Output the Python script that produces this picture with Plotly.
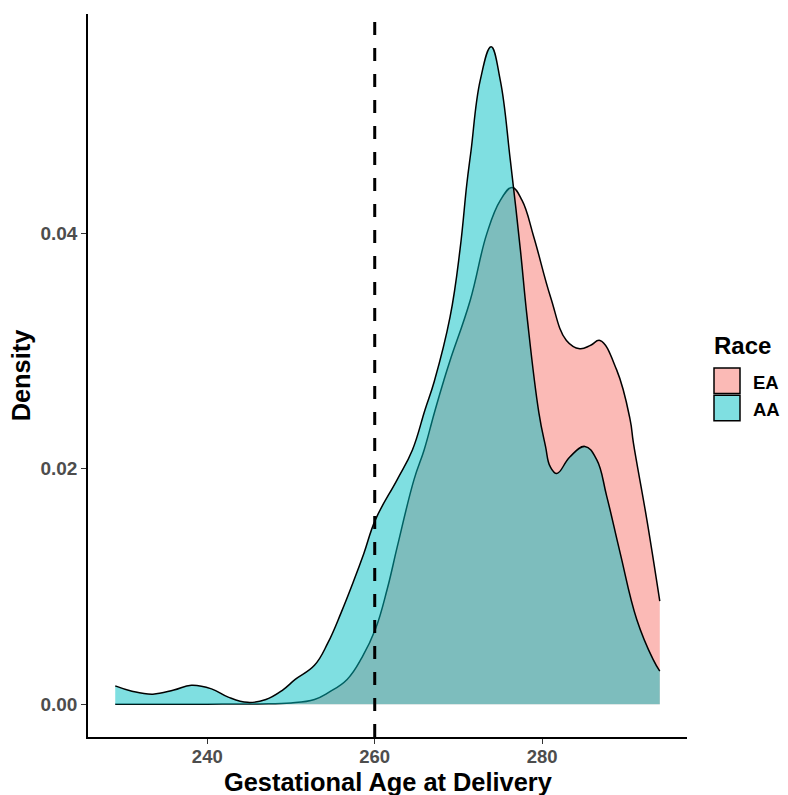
import plotly.graph_objects as go

# Gestational age grid and density values
ea_x = [229, 235, 240, 246, 250, 252.8, 254.5, 256.7, 258.5, 260.1, 261.5, 262.7,
        264.7, 265.9, 267.1, 268.25, 269.0, 271.4, 273.4, 275.0, 276.4, 277.6,
        279.0, 281.0, 282.9, 284.5, 285.8, 286.9, 288.9, 290.5, 290.9, 292.5, 294.05]
ea_y = [0.0, 0.0, 0.0, 0.00002, 0.0001, 0.0004, 0.001, 0.0021, 0.0040, 0.0064, 0.0098,
        0.0134, 0.0191, 0.0216, 0.0247, 0.0275, 0.0292, 0.0343, 0.0400, 0.0428, 0.0439,
        0.0428, 0.0397, 0.0346, 0.0309, 0.0302, 0.0305, 0.0309, 0.0284, 0.0242, 0.0222,
        0.0157, 0.00876]

aa_x = [229, 231, 233.5, 236, 238.1, 240.5, 242.5, 244.8, 247, 249, 250.5, 252.8,
        254.4, 256, 257.5, 258.7, 260.1, 262.7, 264.5, 266, 267.1, 269.0, 270.2,
        271.0, 271.5, 272.6, 273.9, 275.0, 276.2, 277.4, 278.2, 279.6, 280.4, 280.95,
        281.75, 283.3, 285.1, 286.5, 287.7, 289.3, 291.3, 293.25, 294.05]
aa_y = [0.00155, 0.0011, 0.00085, 0.0012, 0.0016, 0.0013, 0.0006, 0.00015, 0.0004,
        0.0012, 0.0021, 0.0033, 0.0052, 0.0078, 0.0105, 0.0128, 0.0157, 0.0191, 0.0216,
        0.025, 0.0274, 0.0329, 0.0387, 0.0442, 0.047, 0.053, 0.05585, 0.053, 0.0462,
        0.0386, 0.0329, 0.0248, 0.0219, 0.0202, 0.0196, 0.0210, 0.0219, 0.0208, 0.0177,
        0.0129, 0.0072, 0.0038, 0.0028]

cutoff = 260
groups = ["EA", "AA"]
fills = ["rgba(248,118,109,0.5)", "rgba(0,191,196,0.5)"]
x_ticks = [240, 260, 280]
y_ticks = [0.0, 0.02, 0.04]
y_tick_text = ["0.00", "0.02", "0.04"]

FONT = "Liberation Sans, Arial, sans-serif"

fig = go.Figure()
for name, xs, ys, fc in zip(groups, [ea_x, aa_x], [ea_y, aa_y], fills):
    fig.add_trace(go.Scatter(
        x=xs, y=ys, name=name, mode="lines", fill="tozeroy", fillcolor=fc,
        line=dict(color="black", width=1.5, shape="spline", smoothing=1.2),
        showlegend=False, hoverinfo="x+y+name"))

xmin, xmax = min(ea_x + aa_x), max(ea_x + aa_x)
ymax = max(ea_y + aa_y)
xr = [xmin - 0.05 * (xmax - xmin), xmax + 0.05 * (xmax - xmin)]
yr = [-0.05 * ymax, ymax * 1.05]

fig.add_shape(type="line", x0=cutoff, x1=cutoff, xref="x", y0=0, y1=1, yref="paper",
              line=dict(color="black", width=3, dash="13px,13px"), layer="above")

L, R, T, B = 88, 101, 14, 58
W, H = 788, 795
pw, ph = W - L - R, H - T - B

def px(xp):
    return (xp - L) / pw

def py(yp):
    return (H - B - yp) / ph

# x axis title placed as annotation to match ggplot spacing
fig.add_annotation(x=0.5, y=py(782), xref="paper", yref="paper",
                   text="<b>Gestational Age at Delivery</b>", showarrow=False,
                   xanchor="center", yanchor="middle",
                   font=dict(family=FONT, size=25.4, color="black"))

# manual legend (ggplot style)
fig.add_annotation(x=px(712), y=py(345), xref="paper", yref="paper", text="<b>Race</b>",
                   showarrow=False, xanchor="left", yanchor="middle",
                   font=dict(family=FONT, size=24, color="black"))
for i, (name, fc) in enumerate(zip(groups, fills)):
    top = 368 + i * 27.3
    fig.add_shape(type="rect", xref="paper", yref="paper",
                  x0=px(714), x1=px(740), y0=py(top), y1=py(top + 25.5),
                  fillcolor=fc, line=dict(color="black", width=1.5))
    fig.add_annotation(x=px(751), y=py(top + 14), xref="paper", yref="paper",
                       text="<b>%s</b>" % name, showarrow=False, xanchor="left",
                       yanchor="middle", font=dict(family=FONT, size=18.5, color="black"))

fig.update_layout(
    width=W, height=H, margin=dict(l=L, r=R, t=T, b=B, autoexpand=False),
    plot_bgcolor="white", paper_bgcolor="white", showlegend=False,
    font=dict(family=FONT),
)
fig.update_xaxes(range=xr, tickvals=x_ticks, ticks="outside", ticklen=5, tickwidth=1.2,
                 tickcolor="#333333", showline=True, linecolor="black", linewidth=1.5,
                 showgrid=False, zeroline=False, automargin=False,
                 ticklabelstandoff=-3,
                 tickfont=dict(family=FONT, size=18.5, color="#4D4D4D", weight="bold"))
fig.update_yaxes(range=yr, tickvals=y_ticks, ticktext=y_tick_text, ticks="outside",
                 ticklen=5, tickwidth=1.2, tickcolor="#333333", showline=True,
                 linecolor="black", linewidth=1.5, showgrid=False, zeroline=False,
                 automargin=False,
                 tickfont=dict(family=FONT, size=19, color="#4D4D4D", weight="bold"),
                 title=dict(text="<b>Density</b>", standoff=3,
                            font=dict(family=FONT, size=25.4, color="black")))

fig.write_html("out.html")
